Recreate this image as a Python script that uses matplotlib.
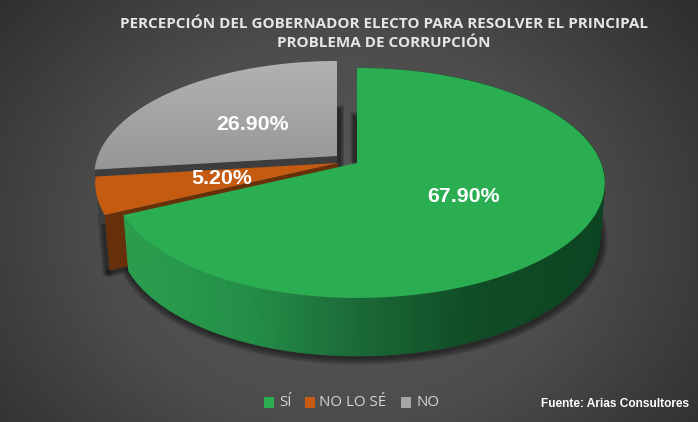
"""Encuesta: 3D exploded pie drawn by hand in pixel coordinates."""

import matplotlib

matplotlib.use("Agg")

import matplotlib.pyplot as plt
import numpy as np
from matplotlib.colors import LinearSegmentedColormap
from matplotlib.patches import Polygon, Rectangle

# data, clockwise from 12 o'clock
categories = ["SÍ", "NO LO SÉ", "NO"]
values = [67.9, 5.2, 26.9]
labels = ["67.90%", "5.20%", "26.90%"]
title_lines = [
    "PERCEPCIÓN DEL GOBERNADOR ELECTO PARA RESOLVER EL PRINCIPAL",
    "PROBLEMA DE CORRUPCIÓN",
]
source = "Fuente: Arias Consultores"

# pie geometry in pixels
RX, RY, PERSP = 244.0, 111.5, 0.1736
LEFT_SQUEEZE = 0.98
SCALE_X, SCALE_Y, DEPTH = 0.98, 1.03, 54.0
CENTERS = {"SÍ": (357, 163), "NO LO SÉ": (338, 163), "NO": (337, 156)}
LABEL_POS = {"SÍ": (464, 196.5), "NO LO SÉ": (222, 178), "NO": (253, 125)}
LEGEND_POS = {"SÍ": (264, 279), "NO LO SÉ": (305, 319), "NO": (401, 416)}
COLORS = {"SÍ": "#2bae52", "NO LO SÉ": "#c55a11", "NO": "#a6a6a6"}


def rim(start, stop, center, n=160):
    """Points of the top-surface rim between two bearings (degrees)."""
    b = np.radians(np.linspace(start, stop, n))
    u, v = np.sin(b), -np.cos(b)
    d = 1 - PERSP * v
    x = RX * u / d
    x = np.where(x < 0, x * LEFT_SQUEEZE, x)
    return np.column_stack([center[0] + x, center[1] + RY * v / d])


def drop(points, center):
    """Project top-surface points to the bottom of the extrusion."""
    out = np.array(points, dtype=float)
    out[:, 0] = center[0] + (out[:, 0] - center[0]) * SCALE_X
    out[:, 1] = center[1] + (out[:, 1] - center[1]) * SCALE_Y + DEPTH
    return out


def soft_line(ax, pts, z, width=9, alpha=0.09):
    for lw in np.linspace(1, width, 6):
        ax.plot(pts[:, 0], pts[:, 1], color=(0, 0, 0, alpha), linewidth=lw,
                solid_capstyle="round", zorder=z)


fig = plt.figure(figsize=(6.98, 4.22), dpi=100)
ax = fig.add_axes([0, 0, 1, 1])
ax.set_xlim(0, 698)
ax.set_ylim(422, 0)
ax.axis("off")

# radial background
yy, xx = np.mgrid[0:422, 0:698]
dist = np.hypot((xx - 340) / 470, (yy - 230) / 380)
bg_cmap = LinearSegmentedColormap.from_list("bg", ["#585858", "#4d4d4d", "#2c2c2c"])
ax.imshow(np.clip(dist, 0, 1), cmap=bg_cmap, vmin=0, vmax=1, extent=(0, 698, 422, 0),
          aspect="auto", zorder=0)

edges = np.cumsum([0] + values) * 3.6
bounds = {c: (edges[i], edges[i + 1]) for i, c in enumerate(categories)}

# gray slice
c = CENTERS["NO"]
start, stop = bounds["NO"]
arc = rim(start, stop, c)
surface = np.vstack([c, arc])
corner = arc[0]
face = np.vstack([c, corner, drop([corner], c), drop([c], c)])
ax.add_patch(Polygon(face, closed=True, facecolor="#3d3d3d", edgecolor="none", zorder=2))
gray_cmap = LinearSegmentedColormap.from_list("gray", ["#b2b2b2", "#969696"])
img = ax.imshow(np.linspace(0, 1, 100)[:, None], cmap=gray_cmap, aspect="auto",
                extent=(85, 345, 172, 60), zorder=3)
ax.set_xlim(0, 698)
ax.set_ylim(422, 0)
clip = Polygon(surface, closed=True, transform=ax.transData)
img.set_clip_path(clip)

# soft shadows to the right of the gray slice and left of the green one
for w0, a in [(7, 0.14), (5.5, 0.2), (4, 0.24)]:
    ax.add_patch(Rectangle((c[0], 112 - w0), w0, 60, facecolor=(0, 0, 0, a),
                           edgecolor="none", zorder=1))
    ax.add_patch(Rectangle((357 - w0, 119 - w0), w0, 50, facecolor=(0, 0, 0, a),
                           edgecolor="none", zorder=1))

# orange slice
c = CENTERS["NO LO SÉ"]
start, stop = bounds["NO LO SÉ"]
arc = rim(start, stop, c, n=40)
corner = arc[0]
face = np.vstack([c, corner, drop([corner], c), drop([c], c)])
soft_line(ax, face[1:3] + [-2, 1], 1.5, width=8)
soft_line(ax, face[2:4] + [0, 2], 1.5, width=7)
ax.add_patch(Polygon(face, closed=True, facecolor="#66300a", edgecolor="none", zorder=4))
ax.add_patch(Polygon(np.vstack([c, arc]), closed=True, facecolor=COLORS["NO LO SÉ"],
                     edgecolor="none", zorder=5))

# green slice
c = CENTERS["SÍ"]
start, stop = bounds["SÍ"]
top = rim(start, stop, c, n=300)
bottom = drop(top, c)
soft_line(ax, bottom[40:] + [1, 2], 1.5, width=10, alpha=0.1)
stops_x = [120, 250, 350, 470, 610]
stops_rgb = np.array([[0x2b, 0xa2, 0x50], [0x23, 0x8f, 0x48], [0x1c, 0x6c, 0x39],
                      [0x0f, 0x4d, 0x25], [0x0c, 0x44, 0x21]]) / 255
for i in range(len(top) - 1):
    quad = [top[i], top[i + 1], bottom[i + 1], bottom[i]]
    mid_x = (top[i][0] + top[i + 1][0]) / 2
    rgb = [np.interp(mid_x, stops_x, stops_rgb[:, j]) for j in range(3)]
    ax.add_patch(Polygon(quad, closed=True, facecolor=rgb, edgecolor=rgb, linewidth=0.4,
                         zorder=6))
ax.add_patch(Polygon(np.vstack([c, top]), closed=True, facecolor=COLORS["SÍ"],
                     edgecolor="none", zorder=7))

# data labels
for cat, lab in zip(categories, labels):
    x, y = LABEL_POS[cat]
    ax.text(x, y, lab, color="white", fontsize=15.4, fontweight="bold",
            family="Liberation Sans", ha="center", va="center", zorder=10)

# title
for line, y in zip(title_lines, [24, 43]):
    ax.text(384, y, line, color="#e6e6e6", fontsize=11, fontweight="bold",
            family="Open Sans", ha="center", va="center", zorder=10)

# legend
for cat in categories:
    box_x, text_x = LEGEND_POS[cat]
    ax.add_patch(Rectangle((box_x, 397), 10, 10.5, facecolor=COLORS[cat], edgecolor="none",
                           zorder=10))
    ax.text(text_x, 403, cat, color="#d4d4d4", fontsize=10.9, family="Open Sans",
            ha="left", va="center", zorder=10)

ax.text(689, 404, source, color="white", fontsize=8.6, fontweight="bold",
        family="Liberation Sans", ha="right", va="center", zorder=10)

fig.savefig("out.png", dpi=100)
